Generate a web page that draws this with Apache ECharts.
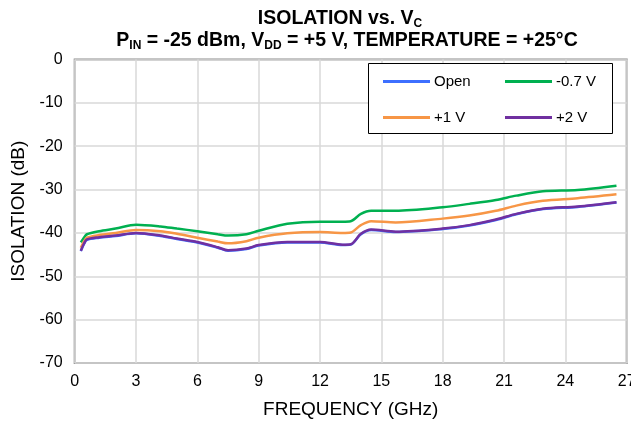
<!DOCTYPE html>
<html><head><meta charset="utf-8">
<script src="https://cdn.jsdelivr.net/npm/echarts@6/dist/echarts.min.js"></script>
<style>html,body{margin:0;padding:0;background:#fff}#c{width:631px;height:423px}</style>
</head><body><div id="c"></div>
<script>
const freq = [0.3, 0.45, 0.6, 1.2, 2, 3, 4.2, 5, 6, 7, 7.5, 8.4, 9, 10.4, 12, 13.1, 13.5, 14.0, 14.5, 15.7, 18, 19.3, 20.6, 21.6, 22.9, 24.6, 26.5];
const isoOpen = [-44.2, -42.6, -41.6, -41.1, -40.7, -40.1, -40.7, -41.4, -42.2, -43.4, -44.1, -43.7, -42.9, -42.2, -42.2, -42.8, -42.7, -40.3, -39.3, -39.8, -39.1, -38.3, -37.0, -35.7, -34.5, -34.0, -33.0];
const isoM07 = [-42.2, -41.1, -40.3, -39.6, -39.0, -38.1, -38.5, -39.0, -39.6, -40.3, -40.6, -40.3, -39.5, -37.9, -37.4, -37.4, -37.3, -35.6, -34.9, -34.9, -34.1, -33.3, -32.4, -31.4, -30.4, -30.1, -29.1];
const isoP1 = [-43.4, -42.0, -41.1, -40.5, -40.0, -39.3, -39.6, -40.2, -41.1, -42.0, -42.4, -41.9, -41.1, -40.1, -39.8, -40.0, -39.9, -38.2, -37.3, -37.6, -36.7, -36.0, -34.9, -33.7, -32.6, -32.0, -31.1];
const isoP2 = [-44.1, -42.5, -41.5, -41.0, -40.6, -40.0, -40.6, -41.3, -42.1, -43.3, -44.0, -43.6, -42.8, -42.1, -42.1, -42.7, -42.6, -40.2, -39.2, -39.7, -39.0, -38.2, -36.9, -35.6, -34.4, -33.9, -32.9];
const seriesNames = ['Open', '-0.7 V', '+1 V', '+2 V'];
const xTicks = [0, 3, 6, 9, 12, 15, 18, 21, 24, 27];
const yTicks = [0, -10, -20, -30, -40, -50, -60, -70];

const colors = ['#3d6fff', '#00b050', '#f79646', '#7030a0'];
const F = 'Liberation Sans, Arial, sans-serif';
const pairs = a => freq.map((f, i) => [f, a[i]]);
const chart = echarts.init(document.getElementById('c'), null, {renderer: 'canvas'});
const mk = (name, data, color, z) => ({
  name, type: 'line', data: pairs(data), smooth: 0.3, showSymbol: false, symbol: 'none', z,
  lineStyle: {color, width: 2.5}, itemStyle: {color}
});
const rich = {
  b: {fontFamily: F, fontSize: 19.5, fontWeight: 'bold', fill: '#000', color: '#000', lineHeight: 22},
  s: {fontFamily: F, fontSize: 12, fontWeight: 'bold', fill: '#000', color: '#000', padding: [9, 0, 0, 0], lineHeight: 22}
};
chart.setOption({
  animation: false,
  grid: {left: 74.7, right: 4.3, top: 59.5, bottom: 60, outerBoundsMode: 'none', containLabel: false,
         show: true, borderColor: '#8c8c8c', borderWidth: 2, backgroundColor: 'transparent'},
  xAxis: {
    type: 'value', min: 0, max: 27, interval: 3,
    name: 'FREQUENCY (GHz)', nameLocation: 'middle', nameGap: 37,
    nameTextStyle: {fontFamily: F, fontSize: 19, color: '#000'},
    axisLine: {show: false}, axisTick: {show: false},
    axisLabel: {fontFamily: F, fontSize: 16, color: '#000', margin: 11, showMaxLabel: true, hideOverlap: false},
    splitLine: {show: true, lineStyle: {color: '#d9d9d9', width: 1.5}}
  },
  yAxis: {
    type: 'value', min: -70, max: 0, interval: 10,
    name: 'ISOLATION (dB)', nameLocation: 'middle', nameGap: 46, nameRotate: 90,
    nameTextStyle: {fontFamily: F, fontSize: 19, color: '#000'},
    axisLine: {show: false}, axisTick: {show: false},
    axisLabel: {fontFamily: F, fontSize: 16, color: '#000', margin: 12},
    splitLine: {show: true, lineStyle: {color: '#d9d9d9', width: 1.5}}
  },
  legend: [
    {data: [seriesNames[0], seriesNames[2]], orient: 'vertical', left: 383, top: 74, padding: 0, itemWidth: 47, itemHeight: 3, itemGap: 21, icon: 'rect',
     textStyle: {fontFamily: F, fontSize: 15, color: '#000', padding: [0, 0, 0, -1]}},
    {data: [seriesNames[1], seriesNames[3]], orient: 'vertical', left: 505, top: 74, padding: 0, itemWidth: 47, itemHeight: 3, itemGap: 21, icon: 'rect',
     textStyle: {fontFamily: F, fontSize: 15, color: '#000', padding: [0, 0, 0, -1]}}
  ],
  graphic: [
    {type: 'rect', shape: {x: 368.5, y: 63.5, width: 244, height: 70}, style: {fill: '#fff', stroke: '#000', lineWidth: 1}, z: 1, silent: true},
    {type: 'text', x: 340, y: 8, style: {textAlign: 'center', text: '{b|ISOLATION vs. V}{s|C}', rich}},
    {type: 'text', x: 347, y: 30, style: {textAlign: 'center', text: '{b|P}{s|IN}{b| = -25 dBm, V}{s|DD}{b| = +5 V, TEMPERATURE = +25°C}', rich}}
  ],
  series: [
    mk(seriesNames[0], isoOpen, colors[0], 2),
    mk(seriesNames[1], isoM07, colors[1], 3),
    mk(seriesNames[2], isoP1, colors[2], 4),
    mk(seriesNames[3], isoP2, colors[3], 5)
  ]
});
</script></body></html>
